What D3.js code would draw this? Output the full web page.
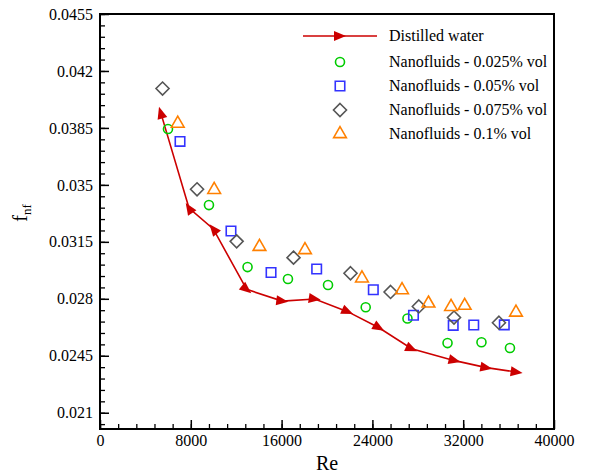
<!DOCTYPE html>
<html>
<head>
<meta charset="utf-8">
<script src="https://cdn.jsdelivr.net/npm/d3@7"></script>
<style>
  body { margin: 0; background: #fff; }
</style>
</head>
<body>
<div id="chart"></div>
<script>
// data
var waterRe = [5350, 7840, 9980, 12920, 16060, 18920, 21820, 24580, 27460, 31250, 34040, 36710];
var waterF  = [0.03944, 0.03358, 0.03229, 0.02858, 0.02786, 0.02799, 0.02721, 0.02622, 0.02493, 0.0242, 0.02377, 0.0235];

var nf025Re = [5990, 9600, 13000, 16560, 20090, 23410, 27090, 30620, 33610, 36120];
var nf025F  = [0.03843, 0.03376, 0.02995, 0.02922, 0.02885, 0.02748, 0.02679, 0.02528, 0.02533, 0.02498];

var nf05Re = [7050, 11540, 15070, 19090, 24080, 27620, 31120, 32930, 35620];
var nf05F  = [0.03767, 0.03217, 0.02962, 0.02983, 0.02856, 0.02699, 0.02637, 0.02639, 0.0264];

var nf075Re = [5510, 8550, 12040, 17050, 22070, 25600, 28090, 31190, 35150];
var nf075F  = [0.04092, 0.03473, 0.03153, 0.03053, 0.02957, 0.02842, 0.02753, 0.02685, 0.02653];

var nf1Re = [6850, 10060, 14050, 18060, 23080, 26610, 28940, 30930, 32130, 36650];
var nf1F  = [0.03877, 0.0347, 0.0312, 0.031, 0.02926, 0.02854, 0.02772, 0.02751, 0.02758, 0.02716];

var xTicks = [0, 8000, 16000, 24000, 32000, 40000];
var yTicks = [0.021, 0.0245, 0.028, 0.0315, 0.035, 0.0385, 0.042, 0.0455];

var legendLabels = ["Distilled water", "Nanofluids - 0.025% vol", "Nanofluids - 0.05% vol",
                    "Nanofluids - 0.075% vol", "Nanofluids - 0.1% vol"];

var serif = "'Liberation Serif', 'Times New Roman', serif";
var W = 589, H = 476;
var margin = { top: 14, right: 35, bottom: 47, left: 100 };

var svg = d3.select("#chart").append("svg")
    .attr("width", W)
    .attr("height", H);

var x = d3.scaleLinear().domain([0, 40000]).range([margin.left, W - margin.right]);
var y = d3.scaleLinear().domain([0.02, 0.0455]).range([H - margin.bottom, margin.top]);

// minor ticks
var xMinor = d3.range(0, 25).map(function (i) { return i * 1600; });
var yMinor = d3.range(-1, 36).map(function (i) { return 0.021 + i * 0.0007; });

svg.append("g")
    .attr("transform", "translate(0," + y.range()[0] + ")")
    .call(d3.axisBottom(x).tickValues(xMinor).tickSize(-5).tickFormat(""))
    .call(g => g.select(".domain").remove())
    .selectAll("line").attr("stroke-width", 1.3);
svg.append("g")
    .attr("transform", "translate(" + x.range()[0] + ",0)")
    .call(d3.axisLeft(y).tickValues(yMinor).tickSize(-5).tickFormat(""))
    .call(g => g.select(".domain").remove())
    .selectAll("line").attr("stroke-width", 1.3);

// major ticks
var xAxis = svg.append("g")
    .attr("transform", "translate(0," + y.range()[0] + ")")
    .call(d3.axisBottom(x).tickValues(xTicks).tickSize(-9).tickPadding(6).tickFormat(d3.format("d")));
xAxis.select(".domain").remove();
xAxis.selectAll("line").attr("stroke-width", 1.5);
xAxis.selectAll("text").style("font-family", serif).style("font-size", "16px").attr("fill", "#000");

var yAxis = svg.append("g")
    .attr("transform", "translate(" + x.range()[0] + ",0)")
    .call(d3.axisLeft(y).tickValues(yTicks).tickSize(-9).tickPadding(7).tickFormat(function (d) { return String(d); }));
yAxis.select(".domain").remove();
yAxis.selectAll("line").attr("stroke-width", 1.5);
yAxis.selectAll("text").style("font-family", serif).style("font-size", "16px").attr("fill", "#000");

// frame
svg.append("rect")
    .attr("x", x.range()[0]).attr("y", y.range()[1])
    .attr("width", x.range()[1] - x.range()[0])
    .attr("height", y.range()[0] - y.range()[1])
    .attr("fill", "none").attr("stroke", "#000").attr("stroke-width", 2);

// axis titles
svg.append("text")
    .attr("x", (x.range()[0] + x.range()[1]) / 2)
    .attr("y", 470)
    .attr("text-anchor", "middle")
    .style("font-family", serif)
    .style("font-size", "20px")
    .text("Re");

var yl = svg.append("text")
    .attr("transform", "translate(27,213) rotate(-90)")
    .attr("text-anchor", "middle")
    .style("font-family", serif)
    .style("font-size", "20px");
yl.append("tspan").text("f");
yl.append("tspan").style("font-size", "13px").attr("dy", 4).text("nf");

// distilled water line with arrowheads
var water = waterRe.map(function (d, i) { return [d, waterF[i]]; });
svg.append("path")
    .datum(water)
    .attr("fill", "none")
    .attr("stroke", "#cc0000")
    .attr("stroke-width", 1.6)
    .attr("d", d3.line().x(d => x(d[0])).y(d => y(d[1])));

function segAngle(a, b) {
    return Math.atan2(y(b[1]) - y(a[1]), x(b[0]) - x(a[0])) * 180 / Math.PI;
}

var arrow = "M6,0 L-6,-5 L-6,5 Z";
svg.append("g").selectAll("path")
    .data(water)
    .enter().append("path")
    .attr("d", arrow)
    .attr("fill", "#cc0000")
    .attr("transform", function (d, i) {
        var angs = [];
        if (i > 0) angs.push(segAngle(water[i - 1], d));
        if (i < water.length - 1) angs.push(segAngle(d, water[i + 1]));
        var ang = d3.mean(angs);
        if (ang > 45) ang -= 180;   // steep parts: arrow points back up the line
        return "translate(" + x(d[0]) + "," + y(d[1]) + ") rotate(" + ang + ")";
    });

// scatter series
var series = [
    { re: nf025Re, f: nf025F, color: "#00cc00", type: d3.symbolCircle, size: 64 },
    { re: nf05Re, f: nf05F, color: "#3333ff", type: d3.symbolSquare, size: 90 },
    { re: nf075Re, f: nf075F, color: "#555555", type: d3.symbolDiamond, size: 70 },
    { re: nf1Re, f: nf1F, color: "#ff8000", type: d3.symbolTriangle, size: 70 }
];

function symbolFor(s) {
    return s.type === d3.symbolDiamond
        ? function () { return "M0,-6.5 L6.5,0 L0,6.5 L-6.5,0 Z"; }
        : d3.symbol().type(s.type).size(s.size);
}

series.forEach(function (s) {
    svg.append("g").selectAll("path")
        .data(s.re)
        .enter().append("path")
        .attr("d", symbolFor(s))
        .attr("transform", function (d, i) { return "translate(" + x(d) + "," + y(s.f[i]) + ")"; })
        .attr("fill", "none")
        .attr("stroke", s.color)
        .attr("stroke-width", 1.6);
});

// legend
var lg = svg.append("g");
var rows = [36, 62, 86, 110, 134];
lg.append("line")
    .attr("x1", 303).attr("x2", 377).attr("y1", rows[0]).attr("y2", rows[0])
    .attr("stroke", "#cc0000").attr("stroke-width", 1.6);
lg.append("path").attr("d", arrow).attr("fill", "#cc0000")
    .attr("transform", "translate(340," + rows[0] + ")");
series.forEach(function (s, i) {
    lg.append("path")
        .attr("d", symbolFor(s))
        .attr("transform", "translate(340," + rows[i + 1] + ")")
        .attr("fill", "none").attr("stroke", s.color).attr("stroke-width", 1.6);
});
lg.selectAll("text")
    .data(legendLabels)
    .enter().append("text")
    .attr("x", 389)
    .attr("y", (d, i) => rows[i] + 5)
    .style("font-family", serif)
    .style("font-size", "16px")
    .text(d => d);
</script>
</body>
</html>
